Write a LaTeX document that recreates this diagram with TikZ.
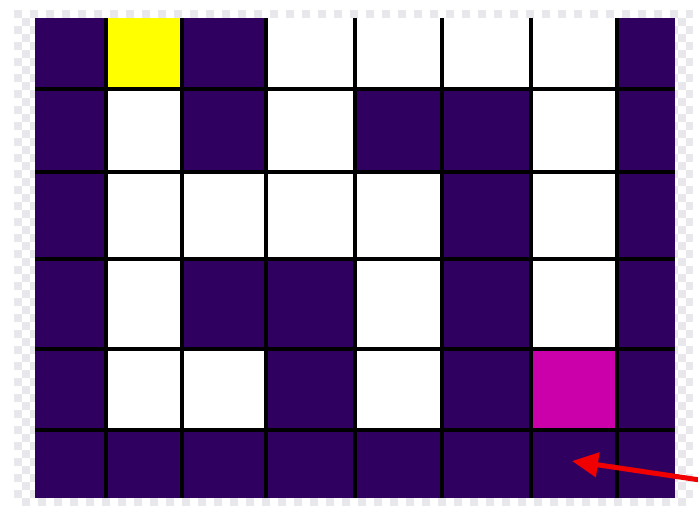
\documentclass[tikz,border=0pt]{standalone}
\usetikzlibrary{arrows.meta}
\definecolor{mazedark}{RGB}{48,0,96}
\definecolor{mazepink}{RGB}{204,0,170}
\definecolor{mazeyellow}{RGB}{255,255,0}
\definecolor{checkgrey}{RGB}{232,232,236}
\definecolor{arrowred}{RGB}{240,0,0}
\tikzset{
  gridline/.style={line width=3.4pt,black},
  redarrow/.style={line width=5pt,arrowred,-{Triangle[length=26pt,width=24pt]}}
}
\begin{document}
\begin{tikzpicture}[x=1pt,y=-1pt]
\useasboundingbox (0,0) rectangle (698,513);
\fill[white] (0,0) rectangle (698,513);
% checkerboard backdrop
\foreach \i in {0,...,84}{
  \foreach \j in {0,...,61}{
    \pgfmathtruncatemacro{\parity}{mod(\i+\j,2)}
    \ifnum\parity=0
      \fill[checkgrey] ({14+8*\i},{10+8*\j}) rectangle ({min(693,22+8*\i)},{min(507,18+8*\j)});
    \fi
  }
}
% cell boundaries
\def\xs{{35,106,182,266,355,442,531,617,675}}
\def\ys{{18,89,172,259,349,430,498}}
% maze layout: D dark, W white, Y yellow, M magenta
\foreach \r/\row in {0/{D,Y,D,W,W,W,W,D},1/{D,W,D,W,D,D,W,D},2/{D,W,W,W,W,D,W,D},3/{D,W,D,D,W,D,W,D},4/{D,W,W,D,W,D,M,D},5/{D,D,D,D,D,D,D,D}}{
  \foreach \c [count=\n from 0] in \row {
    \pgfmathsetmacro{\xa}{\xs[\n]}
    \pgfmathsetmacro{\xb}{\xs[\n+1]}
    \pgfmathsetmacro{\ya}{\ys[\r]}
    \pgfmathsetmacro{\yb}{\ys[\r+1]}
    \if\c D\fill[mazedark] (\xa,\ya) rectangle (\xb,\yb);\fi
    \if\c W\fill[white] (\xa,\ya) rectangle (\xb,\yb);\fi
    \if\c Y\fill[mazeyellow] (\xa,\ya) rectangle (\xb,\yb);\fi
    \if\c M\fill[mazepink] (\xa,\ya) rectangle (\xb,\yb);\fi
  }
}
% internal grid lines
\foreach \x in {106,182,266,355,442,531,617}{
  \draw[gridline] (\x,18) -- (\x,498);
}
\foreach \y in {89,172,259,349,430}{
  \draw[gridline] (35,\y) -- (675,\y);
}
% red arrow
\coordinate (tail) at (700,480);
\coordinate (goal) at (572,461);
\draw[redarrow] (tail) -- (goal);
\end{tikzpicture}
\end{document}
